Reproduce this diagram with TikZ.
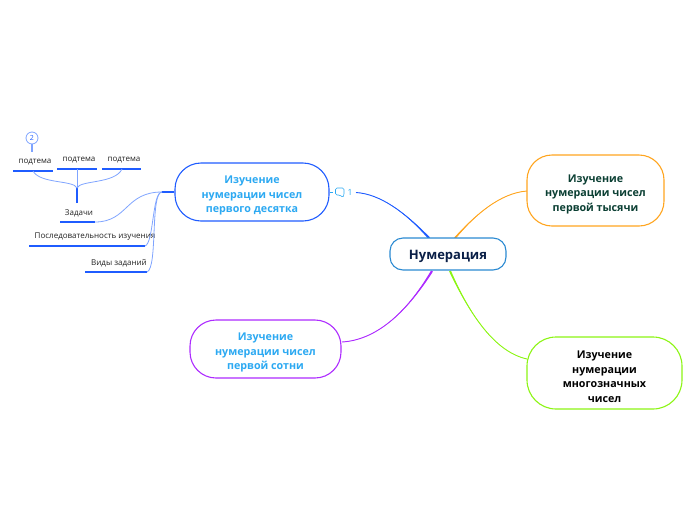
\documentclass[tikz,border=0pt]{standalone}
\usepackage{fontspec}
\setmainfont{Open Sans}
\usetikzlibrary{calc}
\definecolor{cblue}{HTML}{1F5CFF}
\definecolor{clight}{HTML}{2CA9F2}
\definecolor{cthin}{HTML}{7FA4FF}
\definecolor{cgreen}{HTML}{0B3F33}
\definecolor{cnavy}{HTML}{0A1F47}
\definecolor{croot}{HTML}{2B8AD2}
\definecolor{corange}{HTML}{FFA51F}
\definecolor{cpurple}{HTML}{AD2BFF}
\definecolor{clime}{HTML}{8CF514}
\definecolor{ctext}{HTML}{222222}
\newcommand{\tstrut}{\rule{0pt}{15pt}}
\tikzset{
  x=1pt,y=-1pt,
  topic/.style={draw,rounded corners=#1,line width=1.1pt,align=center,inner sep=0pt,font=\bfseries\fontsize{10.7}{14.4}\selectfont,fill=white},
  sub/.style={inner sep=0pt,font=\fontsize{8}{9}\selectfont,text=ctext},
  uline/.style={cblue,line width=1.8pt},
  thinline/.style={cthin,line width=.8pt},
  conn/.style={line width=.9pt},
}
\newcommand{\taper}[7]{\fill[#7] ($(#1)+(#5,#6)$) .. controls (#3) and (#4) .. (#2) .. controls (#4) and (#3) .. ($(#1)-(#5,#6)$) -- cycle;}
\begin{document}
\begin{tikzpicture}
\useasboundingbox (0,0) rectangle (696,520);
\coordinate (r1) at (429,238);
\coordinate (r2) at (455,238);
\coordinate (r3) at (432,271);
\coordinate (r4) at (450,271);
\coordinate (e1) at (356,192.5);
\coordinate (e2) at (527,191);
\coordinate (e3) at (342,342);
\coordinate (e4) at (527,359);
\draw[cblue,conn] (r1) .. controls (405,212) and (380,194) .. (e1);
\taper{r1}{e1}{405,212}{380,194}{.9}{-0.6}{cblue}
\draw[corange,conn] (r2) .. controls (475,215) and (500,193) .. (e2);
\taper{r2}{e2}{475,215}{500,193}{.7}{0.6}{corange}
\draw[cpurple,conn] (r3) .. controls (405,315) and (375,340) .. (e3);
\taper{r3}{e3}{405,315}{375,340}{.9}{0.6}{cpurple}
\draw[clime,conn] (r4) .. controls (470,315) and (495,352) .. (e4);
\taper{r4}{e4}{470,315}{495,352}{.9}{-0.4}{clime}

\node[topic=13,draw=croot,text=cnavy,minimum width=116,minimum height=32,font=\bfseries\fontsize{13}{14}\selectfont] (root) at (448,254) {\rule{0pt}{15pt}Нумерация};
\node[topic=26,draw=cblue,text=clight,minimum width=154,minimum height=58] (n1) at (252,192) {\tstrut Изучение\\нумерации чисел\\первого десятка};
\node[topic=25,draw=corange,text=cgreen,minimum width=137,minimum height=71] (n2) at (595.5,190.5) {\tstrut Изучение\\нумерации чисел\\первой тысячи};
\node[topic=26,draw=cpurple,text=clight,minimum width=151,minimum height=58] (n3) at (265.5,349) {\tstrut Изучение\\нумерации чисел\\первой сотни};
\node[topic=29,draw=clime,text=black,minimum width=155,minimum height=72] (n4) at (604.5,373) {\tstrut Изучение\\нумерации\\многозначных\\чисел};

\draw[clight,line width=.6pt] (n1.east) -- +(3.5,0);
\draw[clight,line width=.6pt,line join=round,rounded corners=1.5pt] (335.5,188) -- (344,188) -- (344,195) -- (343,197.5) -- (340,195) -- (335.5,195) -- cycle;
\node[font=\fontsize{8.5}{9}\selectfont,text=clight,inner sep=0pt] (cnt) at (350,192.5) {1};

\node[sub] (t0) at (79,213) {Задачи};
\node[sub] (t1) at (95,237) {Последовательность изучения};
\node[sub] (t2) at (119,263) {Виды заданий};
\node[sub] (s1) at (35,162) {подтема};
\node[sub] (s2) at (79,160) {подтема};
\node[sub] (s3) at (124,160) {подтема};
\coordinate (u0a) at (60,222);\coordinate (u0b) at (95,222);
\coordinate (u1a) at (29,246);\coordinate (u1b) at (145,246);
\coordinate (u2a) at (85,272);\coordinate (u2b) at (147,272);
\coordinate (v1a) at (13,171);\coordinate (v1b) at (53,171);
\coordinate (v2a) at (57,169);\coordinate (v2b) at (97,169);
\coordinate (v3a) at (102,169);\coordinate (v3b) at (141,169);
\foreach \p/\q in {u0a/u0b,u1a/u1b,u2a/u2b,v1a/v1b,v2a/v2b,v3a/v3b}{\draw[uline] (\p) -- (\q);}

\coordinate (j) at (162,192);
\draw[cblue,line width=1.1pt] (n1.west) -- (j);
\draw[thinline] (u0b) .. controls (128,222) and (125,192) .. (j);
\draw[thinline] (u1b) .. controls (154,243) and (152,192) .. (j);
\draw[thinline] (u2b) .. controls (158,268) and (150,192) .. (j);

\coordinate (st) at (77,203);
\coordinate (sj) at (77,188);
\draw[cblue,line width=1.3pt] (st) -- (sj);
\coordinate (v2m) at (77,169);
\coordinate (v1m) at (33,171);
\coordinate (v3m) at (122,169);
\draw[thinline,line width=1pt] (sj) -- (v2m);
\draw[thinline] (sj) .. controls (74,180) and (40,184) .. (v1m);
\draw[thinline] (sj) .. controls (80,180) and (115,184) .. (v3m);

\node[circle,draw=cthin,line width=.8pt,minimum size=12,inner sep=0pt,text=cblue,font=\fontsize{7}{8}\selectfont] (badge) at (32,138) {2};
\coordinate (bs) at (32,152);
\draw[cthin,line width=1.4pt] (badge.south) -- (bs);
\end{tikzpicture}
\end{document}
